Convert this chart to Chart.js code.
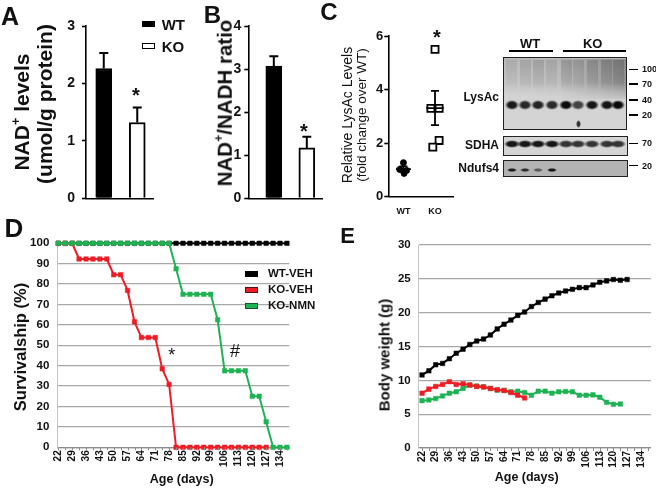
<!DOCTYPE html>
<html>
<head>
<meta charset="utf-8">
<script src="https://cdn.jsdelivr.net/npm/chart.js@4.4.1/dist/chart.umd.min.js"></script>
<style>
  html, body { margin: 0; padding: 0; background: #fff; }
  #fig { position: relative; width: 656px; height: 489px; overflow: hidden;
         font-family: 'Liberation Sans', Arial, sans-serif; color: #111; }
  #fig canvas { position: absolute; left: 0; top: 0; }
  .t { position: absolute; white-space: nowrap; line-height: 1; font-weight: bold;
       transform: translate(-50%, -50%); }
  .t.v { transform: translate(-50%, -50%) rotate(-90deg); }
  .t sup { font-size: 60%; vertical-align: 0.7em; line-height: 0; }
  .box { position: absolute; box-sizing: border-box; }
</style>
</head>
<body>
<div id="fig">
  <canvas id="chartA" width="656" height="489"></canvas>
  <canvas id="chartB" width="656" height="489"></canvas>
  <canvas id="chartC" width="656" height="489"></canvas>
  <canvas id="chartD" width="656" height="489"></canvas>
  <canvas id="chartE" width="656" height="489"></canvas>
</div>
<script>
// === DATA ===
const groups = ['WT', 'KO'];

// A: NAD+ levels (umol/g protein)
const nadLevels = [2.26, 1.32];
const nadLevelsErr = [0.27, 0.26];

// B: NAD+/NADH ratio
const nadRatio = [3.07, 1.17];
const nadRatioErr = [0.23, 0.26];

// C: relative LysAc levels
const lysacWT = [1.27, 1.02, 0.98, 0.87];
const lysacKO = [5.5, 3.3, 3.3, 2.1, 1.85];
const lysacMean = [1.03, 3.31];
const lysacSem = [0.1, 0.64];

// D / E: age axis
const ageDays = [22, 25.5, 29, 32.5, 36, 39.5, 43, 46.5, 50, 53.5, 57, 60.5, 64, 67.5, 71, 74.5,
                 78, 81.5, 85, 88.5, 92, 95.5, 99, 102.5, 106, 109.5, 113, 116.5, 120, 123.5,
                 127, 130.5, 134, 137.5];
const ageTicks = [22, 29, 36, 43, 50, 57, 64, 71, 78, 85, 92, 99, 106, 113, 120, 127, 134];
const seriesNames = ['WT-VEH', 'KO-VEH', 'KO-NMN'];

// D: survival (%)
const survWtVeh = [100, 100, 100, 100, 100, 100, 100, 100, 100, 100, 100, 100, 100, 100, 100, 100,
                   100, 100, 100, 100, 100, 100, 100, 100, 100, 100, 100, 100, 100, 100,
                   100, 100, 100, 100];
const survKoVeh = [100, 100, 100, 92.3, 92.3, 92.3, 92.3, 92.3, 84.6, 84.6, 76.9, 61.5, 53.8, 53.8, 53.8, 38.5,
                   30.8, 0, 0, 0, 0, 0, 0, 0, 0, 0, 0, 0, 0, 0, 0];
const survKoNmn = [100, 100, 100, 100, 100, 100, 100, 100, 100, 100, 100, 100, 100, 100, 100, 100,
                   100, 87.5, 75, 75, 75, 75, 75, 62.5, 37.5, 37.5, 37.5, 37.5, 25, 25,
                   12.5, 0, 0, 0];

// E: body weight (g)
const bwWtVeh = [10.8, 11.4, 12.3, 12.5, 13.2, 14.0, 14.6, 15.3, 15.8, 16.1, 16.7, 17.6, 18.3, 18.9, 19.6, 20.1,
                 20.9, 21.5, 22.0, 22.5, 22.9, 23.2, 23.45, 23.7, 23.7, 24.1, 24.5, 24.7, 24.9, 24.8, 24.9];
const bwKoVeh = [8.1, 8.7, 9.1, 9.4, 9.8, 9.4, 9.5, 9.3, 9.1, 9.0, 8.8, 8.6, 8.5, 8.2, 7.8, 7.4];
const bwKoNmn = [7.0, 7.1, 7.3, 7.7, 8.1, 8.3, 8.8, 9.3, 9.15, 9.05, 8.8, 8.55, 8.5, 8.3, 8.4, 8.2,
                 7.8, 8.4, 8.4, 8.1, 8.3, 8.35, 8.3, 7.8, 7.8, 7.85, 7.5, 6.75, 6.45, 6.5];

// === STYLE ===
const F = "'Liberation Sans', Arial, sans-serif";
const INK = '#111';
const RED = '#ee1c24';
const GREEN = '#1fb254';
const GRID = '#a8a8a8';
// horizontal spread of the dots in C (display only)
const jitterWT = [0, -0.12, 0.1, 0.02];
const jitterKO = [0, -0.13, 0.13, 0.13, -0.07];

Chart.defaults.font.family = F;
Chart.defaults.color = INK;

const Y_W = 40, X_H = 30;

// plot area in page pixels -> layout padding
function makeChart(id, area, cfg) {
  cfg.options = cfg.options || {};
  cfg.options.responsive = false;
  cfg.options.animation = false;
  cfg.options.devicePixelRatio = 1;
  cfg.options.events = [];
  cfg.options.layout = { padding: {
    left: area.l - Y_W, top: area.t, right: 656 - area.r, bottom: 489 - area.b - X_H } };
  cfg.options.plugins = Object.assign({ legend: { display: false }, tooltip: { enabled: false } },
                                      cfg.options.plugins || {});
  cfg.options.scales.x.afterFit = s => { s.height = X_H; };
  cfg.options.scales.y.afterFit = s => { s.width = Y_W; };
  return new Chart(document.getElementById(id), cfg);
}

// error bar above each bar
const barErrors = {
  id: 'barErrors',
  afterDatasetsDraw(chart, args, opts) {
    const { ctx } = chart;
    const y = chart.scales.y;
    const ds = chart.data.datasets[0];
    ctx.save();
    ctx.strokeStyle = '#000';
    ctx.lineWidth = 2;
    chart.getDatasetMeta(0).data.forEach((bar, i) => {
      const top = y.getPixelForValue(ds.data[i].y + opts.err[i]);
      ctx.beginPath();
      ctx.moveTo(bar.x, bar.y);
      ctx.lineTo(bar.x, top);
      ctx.moveTo(bar.x - 4.5, top);
      ctx.lineTo(bar.x + 4.5, top);
      ctx.stroke();
    });
    ctx.restore();
  }
};

// mean line + SEM for the dot plot
const meanSem = {
  id: 'meanSem',
  afterDatasetsDraw(chart, args, opts) {
    const { ctx } = chart;
    const { x, y } = chart.scales;
    ctx.save();
    ctx.strokeStyle = '#000';
    ctx.lineWidth = 1.8;
    opts.mean.forEach((m, i) => {
      const cx = x.getPixelForValue(i + 1);
      const my = y.getPixelForValue(m);
      const hi = y.getPixelForValue(m + opts.sem[i]);
      const lo = y.getPixelForValue(m - opts.sem[i]);
      const hw = opts.halfWidth[i];
      ctx.beginPath();
      ctx.moveTo(cx - hw, my); ctx.lineTo(cx + hw, my);
      ctx.moveTo(cx, hi); ctx.lineTo(cx, lo);
      ctx.moveTo(cx - 4, hi); ctx.lineTo(cx + 4, hi);
      ctx.moveTo(cx - 4, lo); ctx.lineTo(cx + 4, lo);
      ctx.stroke();
    });
    ctx.restore();
  }
};

// small tick marks under the age axis, one per measurement day
const minorTicks = {
  id: 'minorTicks',
  afterDraw(chart) {
    const { ctx } = chart;
    const x = chart.scales.x;
    const b = chart.chartArea.bottom;
    ctx.save();
    ctx.strokeStyle = '#8c8c8c';
    ctx.lineWidth = 1;
    ageDays.forEach(d => {
      const px = Math.round(x.getPixelForValue(d)) + 0.5;
      ctx.beginPath();
      ctx.moveTo(px, b);
      ctx.lineTo(px, b + 3);
      ctx.stroke();
    });
    ctx.restore();
  }
};

function barPanel(id, area, values, errs, yMax, xMin, xMax, tickPad) {
  return makeChart(id, area, {
    type: 'bar',
    data: { datasets: [{
      data: values.map((v, i) => ({ x: i + 1, y: v })),
      backgroundColor: ['#000', '#fff'],
      borderColor: '#000',
      borderWidth: 2,
      barThickness: 16
    }] },
    options: {
      plugins: { barErrors: { err: errs } },
      scales: {
        // offset must be off, otherwise the bar chart pads the linear axis
        x: { type: 'linear', min: xMin, max: xMax, offset: false,
             ticks: { display: false },
             grid: { display: false, drawTicks: false, offset: false },
             border: { display: true, color: '#000', width: 1.6 } },
        y: { min: 0, max: yMax,
             ticks: { stepSize: 1, padding: tickPad, color: INK, font: { size: 14, weight: 'bold' } },
             grid: { drawOnChartArea: false, drawTicks: true, tickLength: 4, tickColor: '#000', tickWidth: 1.6 },
             border: { display: true, color: '#000', width: 1.6 } }
      }
    },
    plugins: [barErrors]
  });
}

barPanel('chartA', { l: 86, t: 26, r: 153, b: 198.3 }, nadLevels, nadLevelsErr, 3, 0.47, 2.47, 7);
barPanel('chartB', { l: 248.3, t: 26, r: 322, b: 198.3 }, nadRatio, nadRatioErr, 4, 0.227, 2.46, 3);

makeChart('chartC', { l: 388.3, t: 36, r: 453, b: 196.7 }, {
  type: 'scatter',
  data: { datasets: [
    { data: lysacWT.map((v, i) => ({ x: 1 + jitterWT[i], y: v })),
      pointStyle: 'circle', pointRadius: 3, backgroundColor: '#000', borderColor: '#000' },
    { data: lysacKO.map((v, i) => ({ x: 2 + jitterKO[i], y: v })),
      pointStyle: 'rect', pointRadius: 5, backgroundColor: '#fff', borderColor: '#000', borderWidth: 1.8 }
  ] },
  options: {
    plugins: { meanSem: { mean: lysacMean, sem: lysacSem, halfWidth: [7.5, 8.7] } },
    scales: {
      x: { type: 'linear', min: 0.52, max: 2.57,
           afterBuildTicks: s => { s.ticks = groups.map((g, i) => ({ value: i + 1 })); },
           ticks: { callback: v => groups[v - 1], padding: 9, color: INK, font: { size: 9, weight: 'bold' } },
           grid: { display: false, drawTicks: false },
           border: { display: true, color: '#000', width: 1.6 } },
      y: { min: 0, max: 6,
           ticks: { stepSize: 2, padding: 1, color: INK, font: { size: 13, weight: 'bold' } },
           grid: { drawOnChartArea: false, drawTicks: true, tickLength: 4, tickColor: '#000', tickWidth: 1.6 },
           border: { display: true, color: '#000', width: 1.6 } }
    }
  },
  plugins: [meanSem]
});

function lineSet(values, color, order) {
  return {
    data: values.map((v, i) => ({ x: ageDays[i], y: v })),
    borderColor: color, backgroundColor: color,
    pointBorderColor: color, pointBackgroundColor: color,
    borderWidth: 2, pointStyle: 'rect', pointRadius: 3.2, pointBorderWidth: 0.5,
    tension: 0, clip: 8, order: order
  };
}

function agePanel(id, area, sets, xMin, xMax, yMax, yStep) {
  return makeChart(id, area, {
    type: 'line',
    data: { datasets: sets },
    options: {
      scales: {
        x: { type: 'linear', min: xMin, max: xMax,
             afterBuildTicks: s => { s.ticks = ageTicks.map(v => ({ value: v })); },
             ticks: { autoSkip: false, minRotation: 90, maxRotation: 90, padding: 3,
                      color: INK, font: { size: 10, weight: 'bold' } },
             grid: { display: false, drawTicks: false },
             border: { display: true, color: '#8c8c8c', width: 1.3 } },
        y: { min: 0, max: yMax,
             ticks: { stepSize: yStep, padding: 8, color: INK, font: { size: 11.5, weight: 'bold' } },
             grid: { color: GRID, lineWidth: 1.3, drawTicks: false },
             border: { display: true, color: '#c4c4c4', width: 1 } }
      }
    },
    plugins: [minorTicks]
  });
}

agePanel('chartD', { l: 57.3, t: 243.3, r: 289.3, b: 447.3 },
  [lineSet(survWtVeh, '#000', 3), lineSet(survKoVeh, RED, 2), lineSet(survKoNmn, GREEN, 1)],
  21.5, 138.7, 100, 10);

agePanel('chartE', { l: 418.7, t: 245, r: 652.7, b: 448 },
  [lineSet(bwWtVeh, '#000', 3), lineSet(bwKoVeh, RED, 1), lineSet(bwKoNmn, GREEN, 2)],
  20.3, 139.2, 30, 5);

// === TEXT AND DECORATIONS ===
const fig = document.getElementById('fig');

function text(html, x, y, size, opts = {}) {
  const d = document.createElement('div');
  d.className = 't' + (opts.v ? ' v' : '');
  d.innerHTML = html;
  d.style.left = x + 'px';
  d.style.top = y + 'px';
  d.style.fontSize = size + 'px';
  if (opts.normal) d.style.fontWeight = 'normal';
  if (opts.left) { d.style.transform = 'translate(0, -50%)'; }
  if (opts.right) { d.style.transform = 'translate(-100%, -50%)'; }
  fig.appendChild(d);
  return d;
}

function rect(x, y, w, h, css) {
  const d = document.createElement('div');
  d.className = 'box';
  Object.assign(d.style, { left: x + 'px', top: y + 'px', width: w + 'px', height: h + 'px' }, css);
  fig.appendChild(d);
  return d;
}

// panel letters
text('A', 10, 16, 25);
text('B', 212.5, 15, 24);
text('C', 329, 12, 24);
text('D', 14, 228, 26);
text('E', 347.5, 236, 22);

// axis titles
text('NAD<sup>+</sup> levels', 21, 112, 21, { v: true });
text('(umol/g protein)', 44, 104, 21, { v: true });
text('NAD<sup>+</sup>/NADH ratio', 225, 103, 20.5, { v: true });
text('Relative LysAc Levels', 346.5, 115, 14, { v: true, normal: true });
text('(fold change over WT)', 361.5, 115, 13.5, { v: true, normal: true });
text('Survivalship (%)', 20, 347, 16.5, { v: true });
text('Age (days)', 181.7, 479, 12.5);
text('Body weight (g)', 384, 355, 15, { v: true });
text('Age (days)', 526.7, 477, 12.5);

// significance marks
text('*', 136, 95, 20);
text('*', 304, 131, 20);
text('*', 437, 37, 20);
text('*', 171.7, 355, 18, { normal: true });
text('#', 235, 351, 18, { normal: true });

// legend A
rect(141.7, 20.7, 13.3, 6.7, { background: '#000' });
rect(141.7, 42.7, 13.3, 6.7, { background: '#fff', border: '1.5px solid #000' });
text(groups[0], 161.7, 24, 15, { left: true });
text(groups[1], 161.7, 46, 15, { left: true });

// legend D
[['#000', '#000'], [RED, '#5a1010'], [GREEN, '#0f5a2a']].forEach(([fill, edge], i) => {
  const cy = 274 + i * 16;
  rect(245, cy - 3.2, 13.3, 6.4, { background: fill, border: '1px solid ' + edge });
  text(seriesNames[i], 268, cy, 11.5, { left: true });
});

// western blot (picture, not data)
function band(cx, cy, w, h, alpha) {
  rect(cx - w / 2, cy - h / 2, w, h, {
    borderRadius: '50%',
    background: `radial-gradient(ellipse at center, rgba(12,12,12,${alpha}) 38%, rgba(12,12,12,0) 72%)`
  });
}

function blot() {
  const lanes = [511.7, 525, 538.3, 551.7, 566, 578, 592, 606.7, 618.3];

  // LysAc panel
  rect(502.7, 57.3, 124.5, 72.7, {
    border: '1.5px solid #222',
    background: 'linear-gradient(180deg, #b9b9b9 0%, #c6c6c6 35%, #d2d2d2 60%, #d6d6d6 100%)'
  });
  // faint smear above the main band in every lane
  [0.1, 0.14, 0.16, 0.12, 0.2, 0.16, 0.2, 0.22, 0.26].forEach((a, i) => {
    rect(lanes[i] - 5.5, 60, 11, 34, {
      background: `linear-gradient(180deg, rgba(40,40,40,${a}) 0%, rgba(40,40,40,${a * 0.6}) 60%, rgba(40,40,40,0) 100%)`
    });
  });
  rect(504, 58.8, 122, 40, {
    background: 'linear-gradient(90deg, rgba(60,60,60,0) 0%, rgba(60,60,60,0.05) 45%, rgba(40,40,40,0.32) 100%)'
  });
  rect(504, 58.8, 122, 40, {
    background: 'linear-gradient(180deg, rgba(214,214,214,0) 0%, rgba(214,214,214,0) 60%, rgba(214,214,214,0.7) 100%)'
  });
  [0.92, 0.85, 0.88, 0.85, 1, 0.72, 0.95, 0.95, 1].forEach((a, i) => band(lanes[i], 105, 14, 10, a));
  band(578, 124, 5, 8, 0.8);

  // SDHA panel
  rect(502.7, 136, 125.5, 19.5, { border: '1.5px solid #222', background: '#d4d4d4' });
  lanes.forEach((lx, i) => band(lx, 143.5, 16, 8, i < 4 ? 0.95 : 0.8));

  // Ndufs4 panel
  rect(502.7, 160, 125.5, 16.5, { border: '1.5px solid #222', background: '#b3b3b3' });
  [0.9, 0.8, 0.55, 0.95].forEach((a, i) => band(lanes[i], 170, 10, 4, a));

  // group header
  text('WT', 530, 42.5, 13);
  text('KO', 592.7, 42.5, 13);
  rect(509, 49.5, 44, 2.6, { background: '#000' });
  rect(562.7, 49.5, 63.3, 2.6, { background: '#000' });

  // row labels
  text('LysAc', 499, 97, 12, { right: true });
  text('SDHA', 499, 145, 12, { right: true });
  text('Ndufs4', 499, 168, 12, { right: true });

  // molecular weight markers
  [[69.3, '100'], [84, '70'], [100, '40'], [115, '20'], [143.3, '70'], [165.7, '20']].forEach(([y, lab]) => {
    rect(629, y - 0.8, 9, 1.6, { background: '#000' });
    text(lab, 642, y, 9, { left: true });
  });
}
blot();
</script>
</body>
</html>
